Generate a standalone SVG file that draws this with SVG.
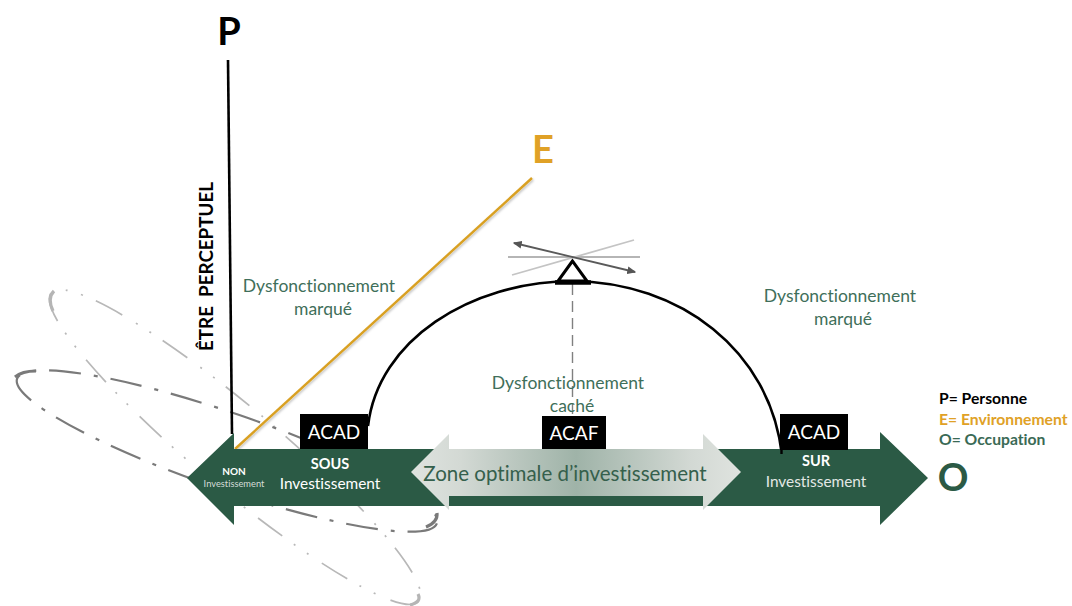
<svg xmlns="http://www.w3.org/2000/svg" width="1072" height="606" viewBox="0 0 1072 606">
<style>
text{font-family:Lato,"Open Sans","Liberation Sans",sans-serif;font-variant-ligatures:none}
.g{fill:#2b5a45}.w{fill:#fff}.m{text-anchor:middle}
.df{fill:#3f6f5a;font-size:17.500px;text-anchor:middle}
.ac{fill:#fff;font-size:19px;text-anchor:middle}
.box{fill:#000}
.b{font-weight:700}
</style>
<defs>
<linearGradient id="zone" x1="0" x2="1" y1="0" y2="0">
<stop offset="0" stop-color="#dfe3df"/><stop offset="0.15" stop-color="#d3d9d4"/><stop offset="0.5" stop-color="#9fb3a8"/><stop offset="0.85" stop-color="#d3d9d4"/><stop offset="1" stop-color="#dfe3df"/>
</linearGradient>
<marker id="ah" markerWidth="9" markerHeight="8" refX="6" refY="3" orient="auto-start-reverse" markerUnits="userSpaceOnUse" viewBox="0 0 7 6"><path d="M0 0L7 3L0 6z" fill="#555"/></marker>
<filter id="sh" x="-5%" y="-5%" width="110%" height="110%"><feDropShadow dx="1" dy="1.500" stdDeviation="1" flood-color="#000" flood-opacity="0.25"/></filter>
</defs>

<g id="ellipses" fill="none">
<g id="ellipse-light" stroke="#b8b8b8" stroke-width="1.700">
<ellipse cx="235" cy="447" rx="240" ry="41" transform="rotate(40 235 447)" stroke-dasharray="30 16 2 14 2 14"/>
<path d="M54 291Q47 298 53 311" stroke="#b5b5b5" stroke-width="3.200"/>
<path d="M418 594Q422 602 410 605" stroke="#b5b5b5" stroke-width="3.200"/>
</g>
<g id="ellipse-dark" stroke="#7a7a7a" stroke-width="2.200">
<ellipse cx="227" cy="451" rx="222" ry="38" transform="rotate(19 227 451)" stroke-dasharray="32 13 4 13"/>
<path d="M15 377Q22 371 36 371" stroke-width="3"/>
<path d="M437 513Q438 522 426 527" stroke-width="3.200"/>
</g>
</g>

<g id="connectors" fill="none">
<path id="axis-p" d="M228 60L232 434" stroke="#000" stroke-width="2.600"/>
<path id="axis-e" d="M532 178L235 449" stroke="#d9a021" stroke-width="2.400" filter="url(#sh)"/>
<path id="curve" d="M368 426C378 340 470 282 572 281C680 282 770 350 782 455" stroke="#000" stroke-width="2.600"/>
<path id="plumb" d="M572.500 284V450" stroke="#808080" stroke-width="1.400" stroke-dasharray="11 6"/>
<path d="M508 257H640" stroke="#b5b5b5" stroke-width="1.800"/>
<path d="M512 275L634 240" stroke="#c4c4c4" stroke-width="1.800"/>
<path d="M514 243L635 272" stroke="#5a5a5a" stroke-width="1.800" marker-start="url(#ah)" marker-end="url(#ah)"/>
</g>

<g id="main-arrow"><path class="g" d="M187 478L234 433V449H880V432L928 478L880 525V506H234V525Z"/></g>

<g id="fulcrum">
<path d="M572.500 261L558 281H587Z" fill="#fff" stroke="#000" stroke-width="3"/>
<path d="M555 282.500H591" stroke="#000" stroke-width="4.500"/>
</g>

<g id="acad-left"><rect class="box" x="300" y="414" width="68" height="35"/><text class="ac" x="334" y="439">ACAD</text></g>
<g id="acaf"><rect class="box" x="542" y="416" width="64" height="33"/><text class="ac" x="574" y="440">ACAF</text></g>
<g id="acad-right"><rect class="box" x="780" y="414" width="68" height="36"/><text class="ac" x="814" y="439">ACAD</text></g>
<path d="M781.500 440V454" stroke="#000" stroke-width="2.400"/>

<g id="zone-optimale">
<path d="M411 472L449 434V449H703V434L741 472L703 510V496H449V510Z" fill="url(#zone)"/>
<text x="565" y="481" class="m" fill="#35604c" font-size="20.500px">Zone optimale d’investissement</text>
</g>

<g id="label-non"><text class="w m b" x="234" y="475" font-size="10px">NON</text><text class="m" x="234" y="487" font-size="9.300px" fill="#d5dcd8">Investissement</text></g>
<g id="label-sous"><text class="w m b" x="330" y="469" font-size="14.500px">SOUS</text><text class="w m" x="330" y="489" font-size="15.400px">Investissement</text></g>
<g id="label-sur"><text class="w m b" x="816" y="466" font-size="14.500px">SUR</text><text class="m" x="816" y="487" font-size="15.400px" fill="#e3e8e5">Investissement</text></g>

<text class="df" x="319" y="292">Dysfonctionnement</text>
<text class="df" x="323" y="315">marqué</text>
<text class="df" x="840" y="302">Dysfonctionnement</text>
<text class="df" x="843" y="325">marqué</text>
<text class="df" x="568" y="389">Dysfonctionnement</text>
<text class="df" x="572" y="412">caché</text>

<g id="node-p"><text x="229" y="45" class="m b" font-size="38px" fill="#000">P</text></g>
<g id="node-e"><text x="543" y="163" class="m b" font-size="38px" fill="#e0a126">E</text></g>
<g id="node-o"><text x="953" y="491" class="m b" font-size="38px" fill="#2b5a45">O</text></g>
<text class="b" x="0" y="0" font-size="18.800px" fill="#000" transform="translate(213 351) rotate(-90)" xml:space="preserve">ÊTRE  PERCEPTUEL</text>

<g id="legend" font-size="15.700px" class="b">
<text x="939" y="404" fill="#000">P= Personne</text>
<text x="939" y="425" fill="#e0a126">E= Environnement</text>
<text x="939" y="445" fill="#3a6a55">O= Occupation</text>
</g>
</svg>
